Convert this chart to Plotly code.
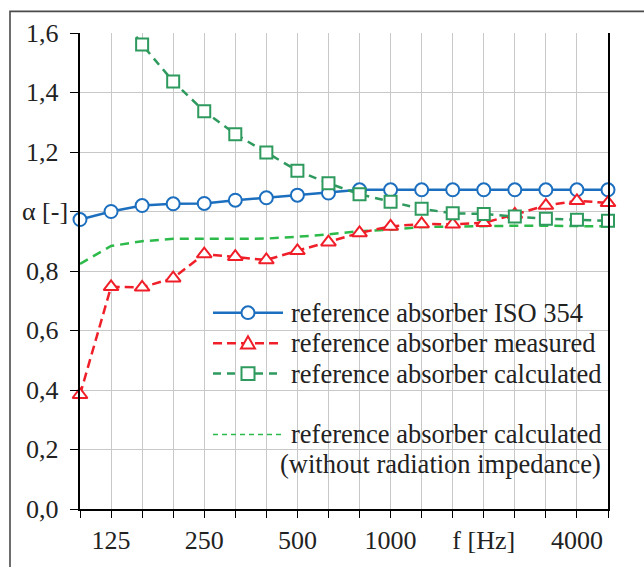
import plotly.graph_objects as go

# ---------------- data ----------------
freqs = ["100", "125", "160", "200", "250", "315", "400", "500", "630", "800",
         "1000", "1250", "1600", "2000", "2500", "3150", "4000", "5000"]
x_ticktext = ["", "125", "", "", "250", "", "", "500", "", "",
              "1000", "", "", "f [Hz]", "", "", "4000", ""]

iso354 = [0.973, 1.000, 1.020, 1.026, 1.027, 1.038, 1.046, 1.055, 1.062, 1.073,
          1.073, 1.073, 1.073, 1.073, 1.073, 1.073, 1.073, 1.073]
measured = [0.384, 0.747, 0.745, 0.776, 0.857, 0.848, 0.837, 0.868, 0.897, 0.928,
            0.950, 0.958, 0.957, 0.962, 0.990, 1.020, 1.036, 1.029]
calculated = [None, 1.700, 1.561, 1.437, 1.337, 1.260, 1.198, 1.137, 1.095, 1.058,
              1.033, 1.009, 0.994, 0.992, 0.983, 0.976, 0.972, 0.969]
calc_no_rad = [0.824, 0.884, 0.900, 0.908, 0.908, 0.908, 0.909, 0.915, 0.923, 0.934,
               0.939, 0.948, 0.950, 0.950, 0.952, 0.952, 0.952, 0.950]

y_max = 1.6
y_tickvals = [0.0, 0.2, 0.4, 0.6, 0.8, 1.0, 1.2, 1.4, 1.6]
y_ticktext = ["0,0", "0,2", "0,4", "0,6", "0,8", "", "1,2", "1,4", "1,6"]
y_title = "α [-]"

legend_names = ["reference absorber ISO 354",
                "reference absorber measured",
                "reference absorber calculated",
                "reference absorber calculated",
                "(without radiation impedance)"]

# ---------------- styling ----------------
BLUE = "#1c6fbf"
RED = "#f01e28"
GREEN = "#2e9a5e"
LGREEN = "#2cba4a"
TXT = "#222222"
FONT = "Liberation Serif"

W, H = 644, 567
L, R, T, B = 80, 36, 33, 49
PW, PH = W - L - R, H - T - B


def px(x):
    return (x - L) / PW


def py(y):
    return (H - B - y) / PH


# hide markers of points lying above the visible range
calc_marker_size = [0 if (v is None or v > y_max) else 12 for v in calculated]

fig = go.Figure()

fig.add_trace(go.Scatter(x=freqs, y=calc_no_rad, mode="lines",
                         line=dict(color=LGREEN, width=2.5, dash="9px,6px"),
                         showlegend=False))
fig.add_trace(go.Scatter(x=freqs, y=iso354, mode="lines+markers",
                         line=dict(color=BLUE, width=2.5),
                         marker=dict(symbol="circle", size=13, color="white", opacity=1,
                                     line=dict(color=BLUE, width=2)),
                         cliponaxis=False, showlegend=False))
fig.add_trace(go.Scatter(x=freqs, y=measured, mode="lines+markers",
                         line=dict(color=RED, width=2.5, dash="9px,5px"),
                         marker=dict(symbol="triangle-up", size=13, color="white", opacity=1,
                                     line=dict(color=RED, width=2)),
                         cliponaxis=False, showlegend=False))
fig.add_trace(go.Scatter(x=freqs, y=calculated, mode="lines+markers",
                         line=dict(color=GREEN, width=2.5, dash="8px,6px"),
                         marker=dict(symbol="square", size=calc_marker_size, color="white",
                                     opacity=1, line=dict(color=GREEN, width=2)),
                         cliponaxis=False, showlegend=False))

shapes = []
annotations = []

# outer frame (open to right/bottom, cropped)
shapes.append(dict(type="path", xref="paper", yref="paper",
                   path=f"M {px(652)} {py(11)} L {px(10)} {py(11)} L {px(10)} {py(580)}",
                   line=dict(color="#4a4a4a", width=1.6)))

# y tick labels (centred at a fixed position left of the ticks)
for v, t in zip(y_tickvals, y_ticktext):
    if t:
        annotations.append(dict(xref="paper", yref="y", x=px(42), y=v,
                                xanchor="center", yanchor="middle", showarrow=False,
                                text=t, font=dict(family=FONT, size=26, color=TXT)))
# y-axis title in place of the 1,0 tick label
annotations.append(dict(xref="paper", yref="y", x=px(45), y=1.0,
                        xanchor="center", yanchor="middle", showarrow=False,
                        text=y_title, font=dict(family=FONT, size=26, color=TXT)))

# manual legend
LEG_SIZE = 26.5
rows_y = [318, 349, 380]
styles = [(BLUE, None, "circle"), (RED, "9px,5px", "triangle"), (GREEN, "8px,6px", "square")]
for yy, (col, dash, sym), name in zip(rows_y, styles, legend_names[:3]):
    shapes.append(dict(type="line", xref="paper", yref="paper",
                       x0=px(213), x1=px(283), y0=py(yy), y1=py(yy),
                       line=dict(color=col, width=2.5, dash=dash or "solid")))
    cx, cy, r = 248, yy, 6.5
    if sym == "circle":
        shapes.append(dict(type="circle", xref="paper", yref="paper",
                           x0=px(cx - r), x1=px(cx + r), y0=py(cy + r), y1=py(cy - r),
                           fillcolor="white", line=dict(color=col, width=2)))
    elif sym == "triangle":
        shapes.append(dict(type="path", xref="paper", yref="paper",
                           path=f"M {px(cx - 7)} {py(cy + 5.5)} L {px(cx + 7)} {py(cy + 5.5)} "
                                f"L {px(cx)} {py(cy - 7)} Z",
                           fillcolor="white", line=dict(color=col, width=2)))
    else:
        shapes.append(dict(type="rect", xref="paper", yref="paper",
                           x0=px(cx - 6.5), x1=px(cx + 6.5), y0=py(cy + 6.5), y1=py(cy - 6.5),
                           fillcolor="white", line=dict(color=col, width=2)))
    annotations.append(dict(xref="paper", yref="paper", x=px(289), y=py(yy),
                            xanchor="left", yanchor="middle", showarrow=False,
                            text=name, font=dict(family=FONT, size=LEG_SIZE, color=TXT)))

shapes.append(dict(type="line", xref="paper", yref="paper",
                   x0=px(213), x1=px(283), y0=py(442), y1=py(442),
                   line=dict(color=LGREEN, width=1.5, dash="5px,4px")))
for yy, name in zip([442, 472], legend_names[3:]):
    annotations.append(dict(xref="paper", yref="paper", x=px(603), y=py(yy),
                            xanchor="right", yanchor="middle", showarrow=False,
                            text=name, font=dict(family=FONT, size=LEG_SIZE, color=TXT)))

fig.update_layout(
    width=W, height=H,
    margin=dict(l=L, r=R, t=T, b=B, pad=0),
    paper_bgcolor="white", plot_bgcolor="white",
    font=dict(family=FONT, size=26, color=TXT),
    showlegend=False,
    shapes=shapes, annotations=annotations,
    xaxis=dict(type="category", range=[0, 17],
               tickmode="array", tickvals=freqs, ticktext=x_ticktext,
               showgrid=True, gridcolor="#c8c8c8", gridwidth=1.3,
               showline=True, linecolor="black", linewidth=1.5, mirror=False,
               ticks="outside", ticklen=7, tickwidth=1.3, tickcolor="black",
               ticklabelstandoff=0,
               tickfont=dict(family=FONT, size=26, color=TXT), tickangle=0),
    yaxis=dict(range=[0, y_max], tickmode="array", tickvals=y_tickvals,
               showticklabels=False,
               showgrid=True, gridcolor="#c8c8c8", gridwidth=1.3, zeroline=False,
               showline=True, linecolor="black", linewidth=1.5, mirror=True,
               ticks="outside", ticklen=8, tickwidth=1.3, tickcolor="black"),
)

fig.write_html("out.html")
